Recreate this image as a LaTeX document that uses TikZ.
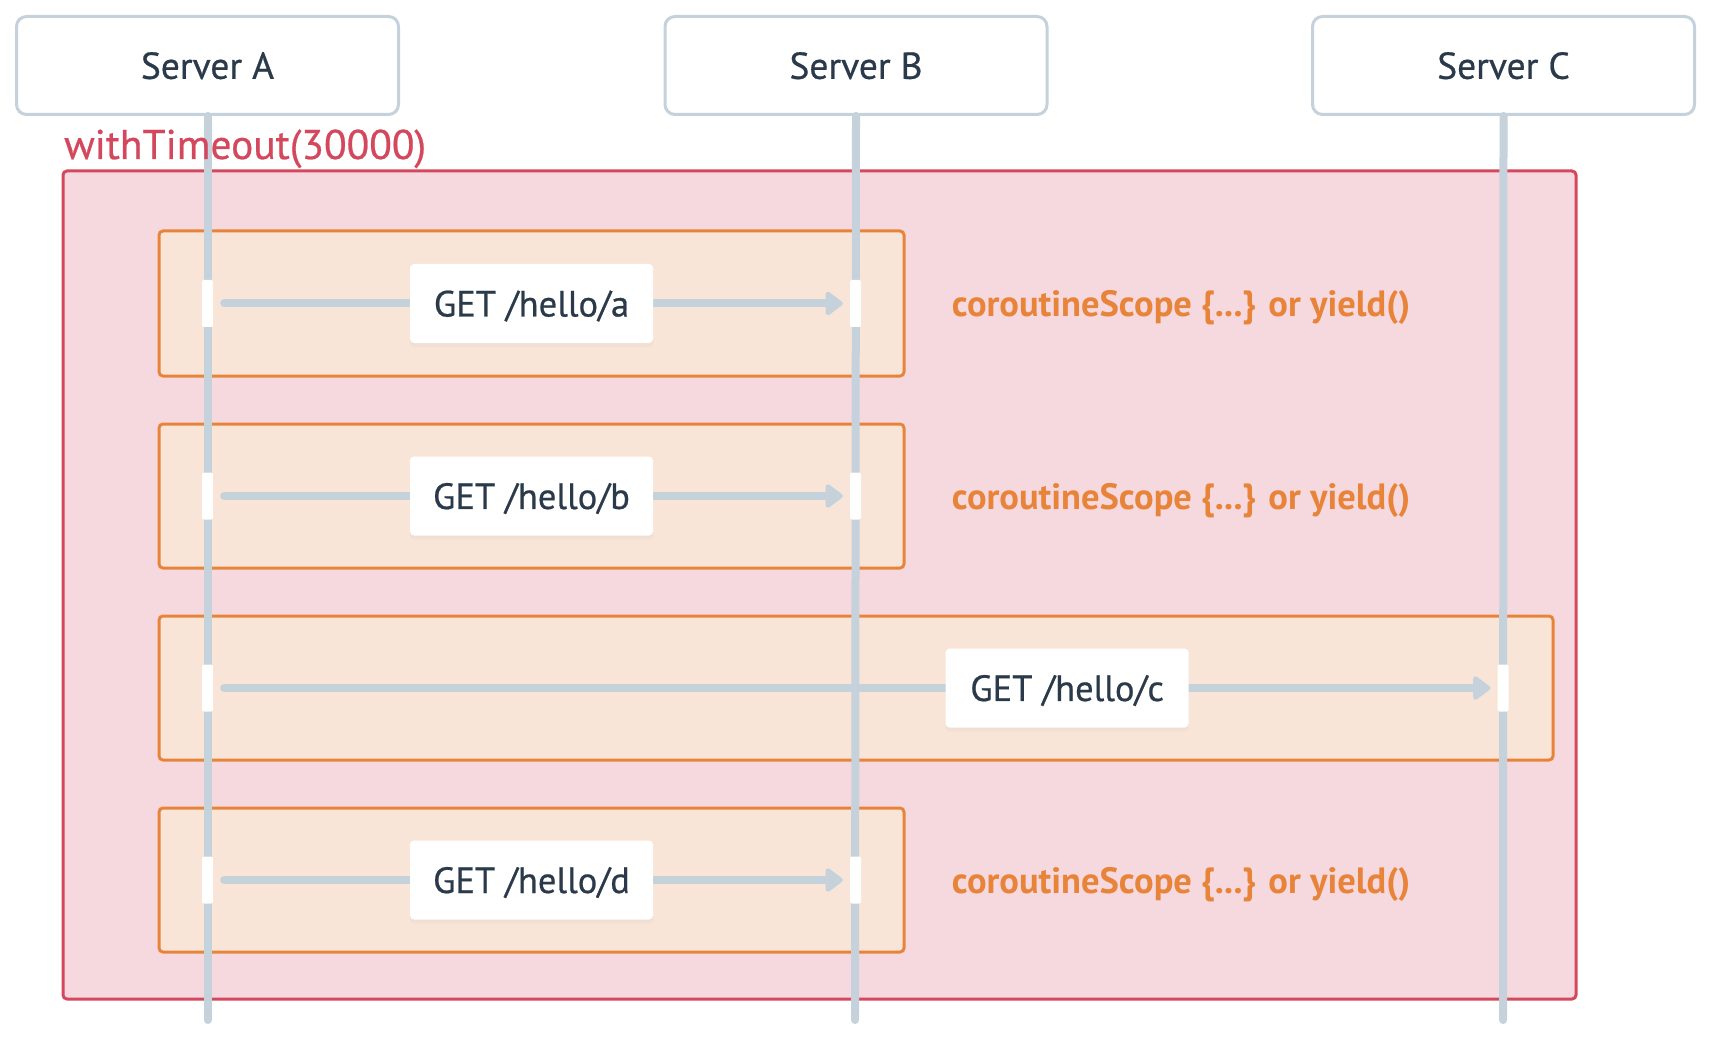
\documentclass[tikz,border=0pt]{standalone}
\usepackage{fontspec}
\setmainfont{PT Sans}
\newfontfamily\medfont{PT Sans}[FakeBold=0.6]
\usetikzlibrary{arrows.meta,shadows}
\definecolor{ink}{HTML}{2B3A4A}
\definecolor{lifegrey}{HTML}{C5D1DB}
\definecolor{timeoutred}{HTML}{D4485E}
\definecolor{timeoutfill}{HTML}{F6D9DE}
\definecolor{scopeorange}{HTML}{E8843A}
\definecolor{scopefill}{HTML}{F8E5D8}
\begin{document}
\begin{tikzpicture}[x=1pt,y=-1pt,
  server/.style={draw=lifegrey,line width=3pt,fill=white,rounded corners=10pt,minimum width=382pt,minimum height=98pt,text=ink,text depth=0pt,font=\medfont\fontsize{37.5}{42}\selectfont},
  lifeline/.style={draw=lifegrey,line width=8pt,line cap=round},
  active/.style={fill=white,minimum width=11pt,minimum height=47pt,inner sep=0pt,rounded corners=2pt},
  msg/.style={draw=lifegrey,line width=8pt,line cap=round,-{Triangle[length=19pt,width=27pt,round]},shorten <=11pt,shorten >=7pt},
  request/.style={fill=white,rounded corners=4pt,minimum width=243pt,minimum height=79pt,inner sep=0pt,text=ink,text depth=0pt,font=\medfont\fontsize{36.5}{42}\selectfont,drop shadow={opacity=0.06,shadow xshift=0pt,shadow yshift=-4pt}},
  scopebox/.style={draw=scopeorange,fill=scopefill,line width=3pt,rounded corners=4pt},
  scopetext/.style={text=scopeorange,text depth=0pt,font=\fontsize{36.5}{42}\selectfont\bfseries}]
 \useasboundingbox (0,0) rectangle (1712,1040);

 %servers
 \node[server] (srvA) at (207.5,65.5) {Server A};
 \node[server] (srvB) at (856,65.5) {Server B};
 \node[server] (srvC) at (1503.5,65.5) {Server C};

 %lifeline ends
 \coordinate (endA) at (207.5,1020);
 \coordinate (endB) at (855,1020);
 \coordinate (endC) at (1503,1020);

 %withTimeout block
 \draw[draw=timeoutred,fill=timeoutfill,line width=3pt,rounded corners=4pt] (63,171) rectangle (1576,999);

 %scope blocks
 \draw[scopebox] (159,231) rectangle (904,376);
 \draw[scopebox] (159,424) rectangle (904,568);
 \draw[scopebox] (159,616) rectangle (1553,760);
 \draw[scopebox] (159,808) rectangle (904,952);

 %lifelines
 \draw[lifeline] (srvA.south) -- (endA);
 \draw[lifeline] (srvB.south) -- (endB);
 \draw[lifeline] (srvC.south) -- (endC);

 \node[anchor=base west,inner sep=0pt,text=timeoutred,font=\medfont\fontsize{41.5}{46}\selectfont] (timeout) at (64,159) {withTimeout(30000)};

 %activations
 \node[active] (actA1) at (207.5,303.5) {};
 \node[active] (actB1) at (855.5,303.5) {};
 \node[active] (actA2) at (207.5,496) {};
 \node[active] (actB2) at (855.5,496) {};
 \node[active] (actA3) at (207.5,688) {};
 \node[active] (actC3) at (1503,688) {};
 \node[active] (actA4) at (207.5,880) {};
 \node[active] (actB4) at (855.5,880) {};

 %requests
 \draw[msg] (actA1.east) -- node[request] (getA) {GET /hello/a} (actB1.west);
 \draw[msg] (actA2.east) -- node[request] (getB) {GET /hello/b} (actB2.west);
 \draw[msg] (actA3.east) -- node[request,pos=0.665] (getC) {GET /hello/c} (actC3.west);
 \draw[msg] (actA4.east) -- node[request] (getD) {GET /hello/d} (actB4.west);

 %scope notes
 \node[scopetext] (noteA) at (1181,303.5) {coroutineScope \{...\} or yield()};
 \node[scopetext] (noteB) at (1181,496) {coroutineScope \{...\} or yield()};
 \node[scopetext] (noteD) at (1181,880) {coroutineScope \{...\} or yield()};
\end{tikzpicture}
\end{document}
